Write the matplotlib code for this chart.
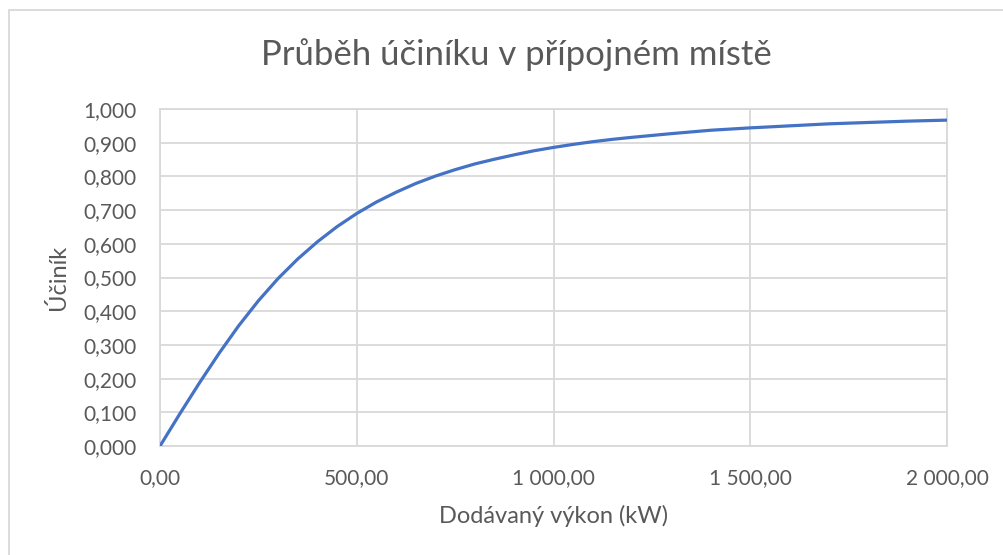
import matplotlib
matplotlib.use("Agg")
import matplotlib.pyplot as plt
from matplotlib.ticker import FuncFormatter
from matplotlib.patches import Rectangle

vykon = [0, 50, 100, 150, 200, 250, 300, 350, 400, 450, 500, 550, 600, 650, 700, 750,
         800, 850, 900, 950, 1000, 1050, 1100, 1150, 1200, 1300, 1400, 1500, 1600,
         1700, 1800, 1900, 2000]
ucinik = [0.000, 0.095, 0.187, 0.275, 0.357, 0.431, 0.497, 0.555, 0.606, 0.651, 0.690,
          0.724, 0.753, 0.779, 0.801, 0.820, 0.837, 0.851, 0.864, 0.876, 0.886,
          0.895, 0.903, 0.910, 0.916, 0.927, 0.937, 0.944, 0.950, 0.956, 0.960,
          0.964, 0.967]

title = "Průběh účiníku v přípojném místě"
xlabel = "Dodávaný výkon (kW)"
ylabel = "Účiník"

txt = "#595959"
grid = "#d9d9d9"
plt.rcParams['font.family'] = ['Lato', 'DejaVu Sans']

fig = plt.figure(figsize=(10.04, 5.55), dpi=100)
ax = fig.add_axes([0.1594, 0.1964, 0.7838, 0.6072])

ax.plot(vykon, ucinik, color="#4472C4", lw=2.3, solid_capstyle="butt",
        solid_joinstyle="round", zorder=3)

ax.set_xlim(0, 2000)
ax.set_ylim(0, 1.0)
ax.set_xticks([0, 500, 1000, 1500, 2000])
ax.set_yticks([i / 10 for i in range(11)])

def fx(v, pos):
    s = f"{v:,.2f}"
    return s.replace(",", " ").replace(".", ",")

ax.xaxis.set_major_formatter(FuncFormatter(fx))
ax.yaxis.set_major_formatter(FuncFormatter(lambda v, p: f"{v:.3f}".replace(".", ",")))

ax.grid(True, color=grid, lw=1.3)
for s in ax.spines.values():
    s.set_color(grid)
    s.set_linewidth(1.3)
ax.tick_params(length=0, labelsize=15, labelcolor=txt)
ax.tick_params(axis="y", pad=17)
ax.tick_params(axis="x", pad=16)

fig.text(516 / 1004, 1 - 55 / 555, title, fontsize=25, color=txt,
         ha="center", va="center")
ax.set_xlabel(xlabel, fontsize=17, color=txt, labelpad=12)
ax.set_ylabel(ylabel, fontsize=17, color=txt, labelpad=10)

# chart frame
fig.patches.append(Rectangle((9 / 1004, -0.1), 1.2, 1 - 10 / 555 + 0.1,
                             transform=fig.transFigure, fill=False,
                             edgecolor=grid, lw=1.3))

fig.savefig("out.png", dpi=100)
